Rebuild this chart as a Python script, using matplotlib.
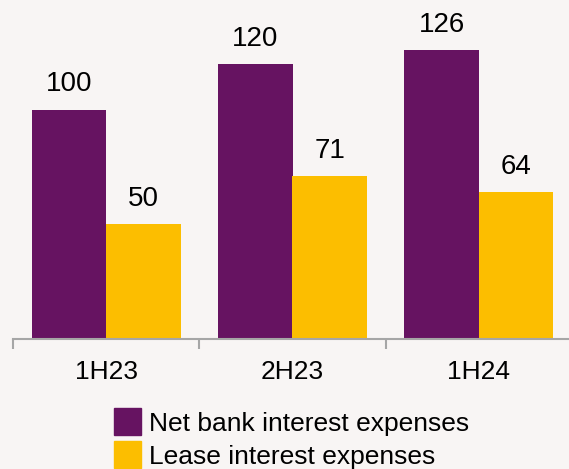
import numpy as np
import matplotlib.pyplot as plt
from matplotlib.patches import Rectangle

plt.rcParams['font.family'] = ['Liberation Sans', 'DejaVu Sans']

# data
periods = ['1H23', '2H23', '1H24']
net_bank = [100, 120, 126]
lease = [50, 71, 64]
series_names = ['Net bank interest expenses', 'Lease interest expenses']

purple = '#661361'
yellow = '#FCBE00'
bg = '#F8F5F4'

W, H = 569, 469
fig = plt.figure(figsize=(W / 100, H / 100), dpi=100, facecolor=bg)
ax = fig.add_axes([13 / W, 130 / H, 559 / W, 339 / H])
ax.set_facecolor(bg)

x = np.arange(len(periods))
w = 0.4
b1 = ax.bar(x - w / 2, net_bank, w, color=purple)
b2 = ax.bar(x + w / 2, lease, w, color=yellow)

# value labels above the bars
for bars in (b1, b2):
    for rect in bars:
        ax.annotate('%d' % rect.get_height(),
                    (rect.get_x() + rect.get_width() / 2, rect.get_height()),
                    xytext=(0, 9), textcoords='offset points',
                    ha='center', va='bottom', fontsize=20)

ax.set_xlim(-0.5, 2.5)
ax.set_ylim(0, 148)
for s in ['top', 'right', 'left']:
    ax.spines[s].set_visible(False)
ax.spines['bottom'].set_color('#A6A6A6')
ax.spines['bottom'].set_linewidth(1.5)
ax.set_yticks([])
ax.set_xticks([-0.5, 0.5, 1.5, 2.5])
ax.set_xticklabels([])
ax.set_xticks(x, minor=True)
ax.set_xticklabels(periods, minor=True, fontsize=19)
ax.tick_params(axis='x', which='major', direction='out', length=7,
               width=1.5, color='#A6A6A6')
ax.tick_params(axis='x', which='minor', length=0, pad=15)

# legend, placed by hand below the axis
for i, (name, col) in enumerate(zip(series_names, [purple, yellow])):
    top = 408 + 33 * i
    fig.add_artist(Rectangle((114 / W, 1 - (top + 27) / H), 27 / W, 27 / H,
                             transform=fig.transFigure, color=col))
    fig.text(149 / W, 1 - (top + 23) / H, name, fontsize=19,
             ha='left', va='baseline')

fig.savefig('out.png', dpi=100, facecolor=bg)
